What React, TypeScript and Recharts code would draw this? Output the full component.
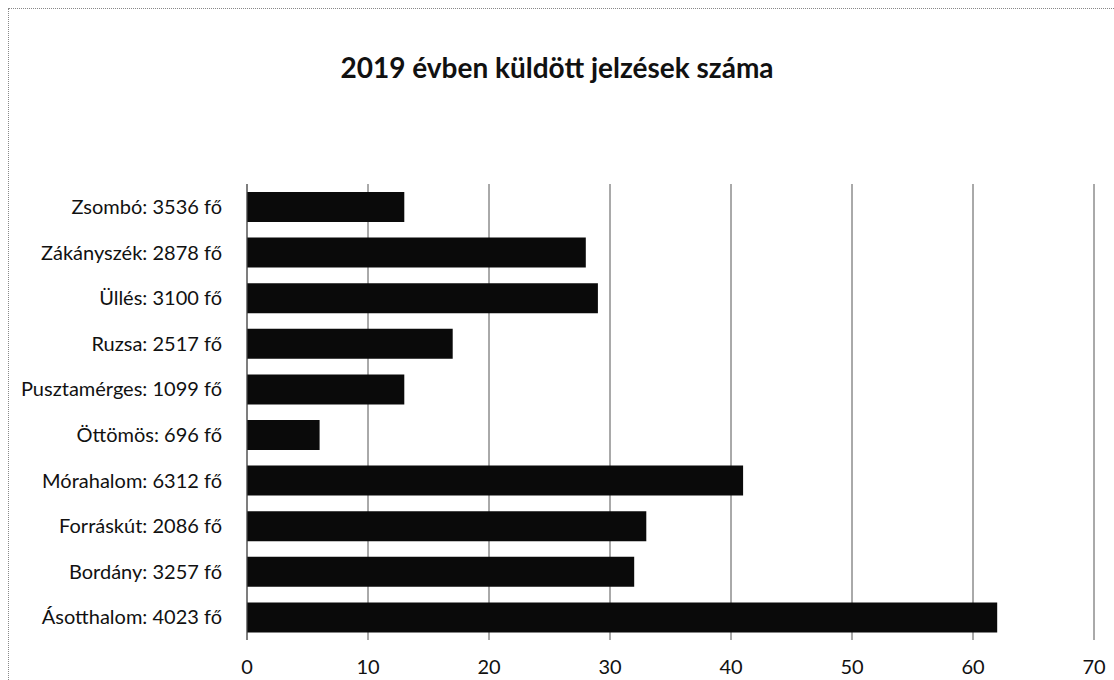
import { Bar, BarChart, CartesianGrid, XAxis, YAxis } from "recharts";

const settlements = [
  "Zsombó: 3536 fő",
  "Zákányszék: 2878 fő",
  "Üllés: 3100 fő",
  "Ruzsa: 2517 fő",
  "Pusztamérges: 1099 fő",
  "Öttömös: 696 fő",
  "Mórahalom: 6312 fő",
  "Forráskút: 2086 fő",
  "Bordány: 3257 fő",
  "Ásotthalom: 4023 fő",
];
const signals = [13, 28, 29, 17, 13, 6, 41, 33, 32, 62];
const xTicks = [0, 10, 20, 30, 40, 50, 60, 70];

const FONT = "Lato, 'Open Sans', sans-serif";

export default function App() {
  const data = settlements.map((name, i) => ({ name, value: signals[i] }));

  return (
    <div
      style={{
        position: "absolute",
        left: 0,
        top: 0,
        width: 1114,
        height: 680,
        background: "#fff",
        fontFamily: FONT,
      }}
    >
      <div
        style={{
          position: "absolute",
          left: 8,
          top: 8,
          right: 0,
          bottom: 0,
          borderLeft: "1px dotted #888",
          borderTop: "1px dotted #888",
        }}
      />
      <div
        style={{
          position: "absolute",
          left: 0,
          width: 1114,
          top: 50,
          textAlign: "center",
          fontSize: 28,
          fontWeight: 700,
          color: "#111",
        }}
      >
        2019 évben küldött jelzések száma
      </div>
      <BarChart
        width={1114}
        height={680}
        data={data}
        layout="vertical"
        margin={{ top: 184, right: 20, bottom: 10, left: 0 }}
        style={{ position: "absolute", left: 0, top: 0 }}
      >
        <CartesianGrid stroke="#555" horizontal={false} />
        <XAxis
          type="number"
          domain={[0, 70]}
          ticks={xTicks}
          axisLine={false}
          tickLine={false}
          tickMargin={14}
          height={30}
          tick={{ fill: "#111", fontSize: 20, fontFamily: FONT }}
        />
        <YAxis
          type="category"
          dataKey="name"
          width={247}
          axisLine={{ stroke: "#555" }}
          tickLine={false}
          interval={0}
          tick={{ fill: "#111", fontSize: 20, fontFamily: FONT, dx: -17 }}
        />
        <Bar dataKey="value" fill="#0a0a0a" barSize={30} isAnimationActive={false} />
      </BarChart>
    </div>
  );
}
